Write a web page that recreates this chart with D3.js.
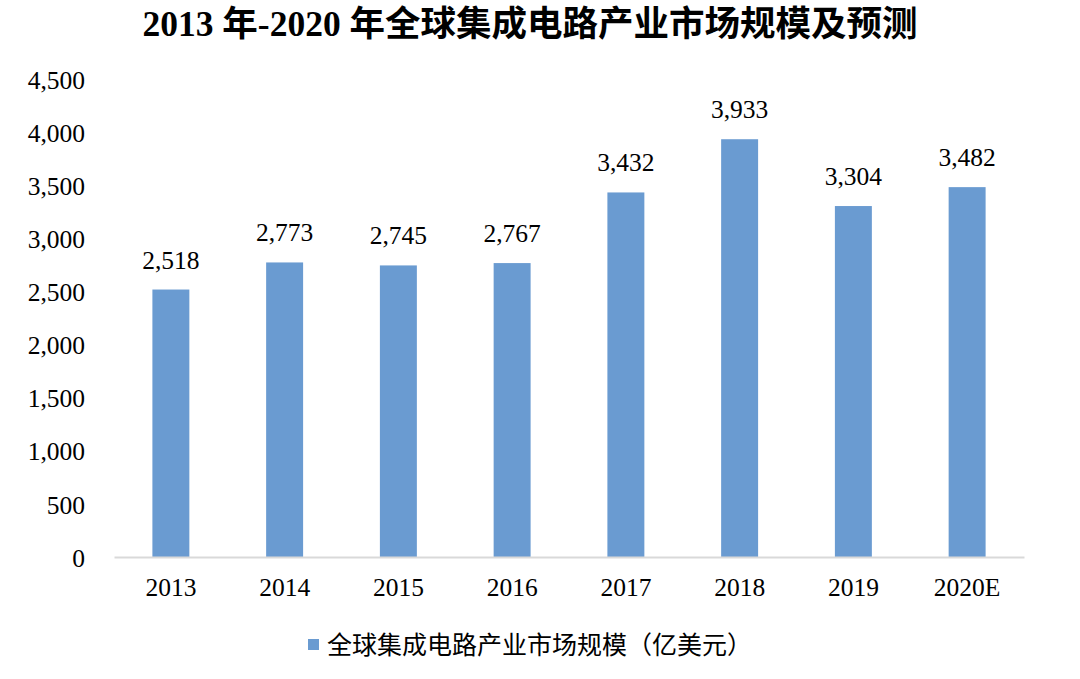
<!DOCTYPE html>
<html>
<head>
<meta charset="utf-8">
<script src="https://cdn.jsdelivr.net/npm/d3@7"></script>
<style>
  body { margin: 0; background: #fff; }
  svg { display: block; }
</style>
</head>
<body>
<div id="chart"></div>
<script>
var years = ["2013", "2014", "2015", "2016", "2017", "2018", "2019", "2020E"];
var values = [2518, 2773, 2745, 2767, 3432, 3933, 3304, 3482];
var yTicks = [0, 500, 1000, 1500, 2000, 2500, 3000, 3500, 4000, 4500];
var title = "2013 年-2020 年全球集成电路产业市场规模及预测";
var legendLabel = "全球集成电路产业市场规模（亿美元）";

var width = 1080, height = 679;
var margin = {top: 79, right: 56, bottom: 122, left: 114};
var serif = "'Liberation Serif', 'Times New Roman', serif";
var cjk = "'Noto Sans CJK SC', sans-serif";
var barColor = "#6a9bd1";

var svg = d3.select("#chart")
  .append("svg")
  .attr("width", width)
  .attr("height", height);

var x = d3.scaleBand()
  .domain(years)
  .range([margin.left, width - margin.right])
  .paddingInner(0.675)
  .paddingOuter(0.3375);

var y = d3.scaleLinear()
  .domain([0, 4500])
  .range([height - margin.bottom, margin.top]);

// title
svg.append("text")
  .attr("x", 530)
  .attr("y", 36)
  .attr("text-anchor", "middle")
  .style("font-family", serif + ", " + cjk)
  .style("font-weight", "bold")
  .style("font-size", "35.5px")
  .text(title);

// y axis labels only
var yAxis = svg.append("g")
  .attr("transform", "translate(" + (margin.left - 29) + ",0)")
  .call(d3.axisLeft(y).tickValues(yTicks).tickFormat(d3.format(",")).tickSize(0).tickPadding(0));
yAxis.select(".domain").remove();
yAxis.selectAll("text")
  .attr("dy", "0.36em")
  .style("font-family", serif)
  .style("font-size", "25.5px")
  .attr("fill", "#000");

// bars
svg.append("g")
  .selectAll("rect")
  .data(values)
  .enter()
  .append("rect")
  .attr("x", function(d, i) { return x(years[i]); })
  .attr("y", function(d) { return y(d); })
  .attr("width", x.bandwidth())
  .attr("height", function(d) { return y(0) - y(d); })
  .attr("fill", barColor);

// x axis
var xAxis = svg.append("g")
  .attr("transform", "translate(0," + y(0) + ")")
  .call(d3.axisBottom(x).tickSize(0).tickPadding(21));
xAxis.select(".domain")
  .attr("stroke", "#d9d9d9")
  .attr("stroke-width", 2);
xAxis.selectAll("text")
  .style("font-family", serif)
  .style("font-size", "25.5px")
  .attr("fill", "#000");

// value labels
svg.append("g")
  .selectAll("text")
  .data(values)
  .enter()
  .append("text")
  .attr("x", function(d, i) { return x(years[i]) + x.bandwidth() / 2; })
  .attr("y", function(d) { return y(d) - 21; })
  .attr("text-anchor", "middle")
  .style("font-family", serif)
  .style("font-size", "25.5px")
  .text(function(d) { return d3.format(",")(d); });

// legend
var legend = svg.append("g").attr("transform", "translate(308,639)");
legend.append("rect")
  .attr("width", 11)
  .attr("height", 11)
  .attr("fill", barColor);
legend.append("text")
  .attr("x", 19)
  .attr("y", 6)
  .attr("dy", "0.36em")
  .style("font-family", cjk)
  .style("font-size", "25px")
  .text(legendLabel);
</script>
</body>
</html>
